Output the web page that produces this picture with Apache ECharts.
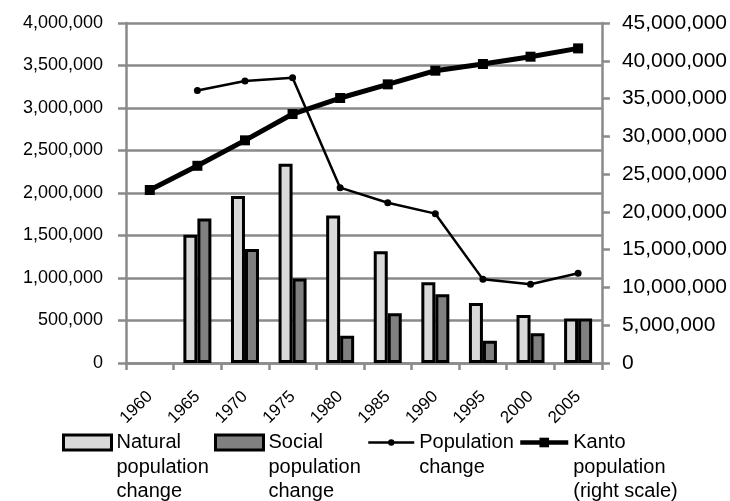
<!DOCTYPE html>
<html>
<head>
<meta charset="utf-8">
<script src="https://cdn.jsdelivr.net/npm/echarts@6/dist/echarts.min.js"></script>
<style>
  html, body { margin: 0; padding: 0; background: #fff; }
  #chart { width: 730px; height: 501px; }
</style>
</head>
<body>
<div id="chart"></div>
<script>
// Census years
const years = ['1960', '1965', '1970', '1975', '1980', '1985', '1990', '1995', '2000', '2005'];

// Five-year changes (left scale)
const naturalChange    = [null, 1510000, 1965000, 2345000, 1735000, 1315000, 950000, 705000, 565000, 525000];
const socialChange     = [null, 1700000, 1340000,  995000,  320000,  585000, 808000, 263000, 350000, 525000];
const populationChange = [null, 3205000, 3318000, 3357000, 2063000, 1886000, 1757000, 984000, 926000, 1055000];

// Total population of the Kanto region (right scale)
const kantoPopulation = [22900000, 26100000, 29470000, 32950000, 35070000, 36880000, 38690000, 39570000, 40540000, 41640000];

// Axis tick values
const leftTicks  = [0, 500000, 1000000, 1500000, 2000000, 2500000, 3000000, 3500000, 4000000];
const rightTicks = [0, 5000000, 10000000, 15000000, 20000000, 25000000, 30000000, 35000000, 40000000, 45000000];

// Legend labels
const seriesNames = [
  'Natural\npopulation\nchange',
  'Social\npopulation\nchange',
  'Population\nchange',
  'Kanto\npopulation\n(right scale)'
];

const FONT = '"Liberation Sans", Arial, sans-serif';
const GRID_GRAY = '#8a8a8a';
const LH = 24.5;
const ICON_CY = 442.5;

const fmt = v => Math.round(v).toLocaleString('en-US');

// One legend block per series so each sits at its own x position.
// Blank lines are prepended so the first text line is centred on the icon.
function legendBlock(name, left, iconW, iconH, extra) {
  const n = name.split('\n').length;
  const lead = '\n'.repeat(n - 1);
  const boxTop = ICON_CY - ((2 * n - 1) * LH) / 2;
  return Object.assign({
    data: [name],
    left: left,
    top: Math.min(boxTop, ICON_CY - iconH / 2),
    padding: 0,
    itemWidth: iconW,
    itemHeight: iconH,
    itemGap: 0,
    selectedMode: false,
    formatter: s => lead + s,
    textStyle: { fontFamily: FONT, fontSize: 20, color: '#000', lineHeight: LH }
  }, extra || {});
}

const chart = echarts.init(document.getElementById('chart'), null, { renderer: 'canvas' });

chart.setOption({
  animation: false,
  backgroundColor: '#fff',
  grid: { left: 126, right: 128, top: 23, bottom: 138, containLabel: false },
  legend: [
    legendBlock(seriesNames[0], 62, 48, 15, { icon: 'rect', itemStyle: { borderColor: '#000', borderWidth: 3 } }),
    legendBlock(seriesNames[1], 214, 48, 15, { icon: 'rect', itemStyle: { borderColor: '#000', borderWidth: 3 } }),
    legendBlock(seriesNames[2], 367, 46, 8, { lineStyle: { width: 2.5, color: '#000' } }),
    legendBlock(seriesNames[3], 518, 48, 12, { lineStyle: { width: 4.5, color: '#000' } })
  ],
  xAxis: {
    type: 'category',
    data: years,
    boundaryGap: true,
    axisLine: { show: true, lineStyle: { color: GRID_GRAY, width: 2.5 } },
    axisTick: { show: true, alignWithLabel: false, length: 7, lineStyle: { color: GRID_GRAY, width: 2.5 } },
    axisLabel: { rotate: 45, margin: 31, fontFamily: FONT, fontSize: 17, color: '#000', interval: 0 },
    splitLine: { show: false }
  },
  yAxis: [
    {
      type: 'value',
      position: 'left',
      min: leftTicks[0],
      max: leftTicks[leftTicks.length - 1],
      interval: leftTicks[1] - leftTicks[0],
      axisLine: { show: true, lineStyle: { color: GRID_GRAY, width: 2.5 } },
      axisTick: { show: true, length: 8, lineStyle: { color: GRID_GRAY, width: 2.5 } },
      axisLabel: { margin: 23, fontFamily: FONT, fontSize: 18, color: '#000', formatter: fmt },
      splitLine: { show: true, lineStyle: { color: GRID_GRAY, width: 2.5 } }
    },
    {
      type: 'value',
      position: 'right',
      min: rightTicks[0],
      max: rightTicks[rightTicks.length - 1],
      interval: rightTicks[1] - rightTicks[0],
      axisLine: { show: true, lineStyle: { color: GRID_GRAY, width: 2.5 } },
      axisTick: { show: true, length: 8, lineStyle: { color: GRID_GRAY, width: 2.5 } },
      axisLabel: { margin: 20, fontFamily: FONT, fontSize: 21, color: '#000', formatter: fmt },
      splitLine: { show: false }
    }
  ],
  series: [
    {
      name: seriesNames[0],
      type: 'bar',
      yAxisIndex: 0,
      data: naturalChange,
      barWidth: 14,
      barGap: '0%',
      itemStyle: { color: '#d9d9d9', borderColor: '#000', borderWidth: 3 }
    },
    {
      name: seriesNames[1],
      type: 'bar',
      yAxisIndex: 0,
      data: socialChange,
      barWidth: 14,
      barGap: '0%',
      itemStyle: { color: '#808080', borderColor: '#000', borderWidth: 3 }
    },
    {
      name: seriesNames[2],
      type: 'line',
      yAxisIndex: 0,
      data: populationChange,
      symbol: 'circle',
      symbolSize: 7,
      lineStyle: { color: '#000', width: 2.5 },
      itemStyle: { color: '#000' },
      connectNulls: false
    },
    {
      name: seriesNames[3],
      type: 'line',
      yAxisIndex: 1,
      data: kantoPopulation,
      symbol: 'rect',
      symbolSize: 10,
      lineStyle: { color: '#000', width: 5 },
      itemStyle: { color: '#000' }
    }
  ]
});
</script>
</body>
</html>
